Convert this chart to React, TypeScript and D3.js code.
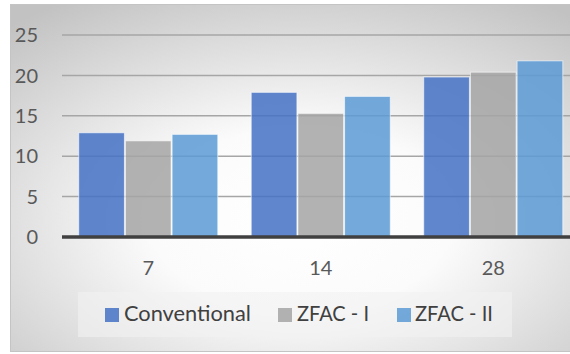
import React from "react";
import * as d3 from "d3";

const categories = ["7", "14", "28"];
const seriesNames = ["Conventional", "ZFAC - I", "ZFAC - II"];
const conventional = [12.9, 17.9, 19.8];
const zfacI = [11.9, 15.3, 20.4];
const zfacII = [12.7, 17.4, 21.8];
const yTicks = [0, 5, 10, 15, 20, 25];
const colors = ["#4472C4", "#A5A5A5", "#5B9BD5"];

const W = 570;
const H = 354;
const FONT = "Lato, 'Open Sans', sans-serif";

export default function App() {
  const seriesValues = [conventional, zfacI, zfacII];
  const plotLeft = 62;
  const plotRight = 579.5;
  const y = d3.scaleLinear().domain([0, 25]).range([237, 35]);
  const x0 = d3
    .scaleBand<string>()
    .domain(categories)
    .range([plotLeft, plotRight])
    .paddingInner(0.188)
    .paddingOuter(0.094);
  const x1 = d3
    .scaleBand<string>()
    .domain(seriesNames)
    .range([0, x0.bandwidth()])
    .padding(0);

  const legendItems = [
    { name: seriesNames[0], sq: 105, tx: 124, len: 127 },
    { name: seriesNames[1], sq: 278, tx: 297, len: 72 },
    { name: seriesNames[2], sq: 397, tx: 415, len: 78 },
  ];

  return (
    <svg
      width={W}
      height={H}
      style={{ position: "absolute", left: 0, top: 0, display: "block" }}
    >
      <defs>
        <radialGradient id="bg" cx="50%" cy="62%" r="75%" fx="50%" fy="62%">
          <stop offset="0%" stopColor="#ffffff" />
          <stop offset="35%" stopColor="#fbfbfb" />
          <stop offset="100%" stopColor="#c2c2c2" />
        </radialGradient>
      </defs>
      <rect x={0} y={0} width={W} height={H} fill="#ffffff" />
      <rect
        x={10.5}
        y={4.5}
        width={580}
        height={347}
        fill="url(#bg)"
        stroke="#c4c4c4"
        strokeWidth={1}
      />
      {/* gridlines */}
      {yTicks.slice(1).map((t) => (
        <line
          key={t}
          x1={plotLeft}
          x2={W}
          y1={y(t)}
          y2={y(t)}
          stroke="#a6a6a6"
          strokeWidth={1.5}
        />
      ))}
      {/* y tick labels */}
      {yTicks.map((t) => (
        <text
          key={t}
          x={38}
          y={y(t)}
          dy="0.36em"
          textAnchor="end"
          fontFamily={FONT}
          fontSize={20}
          fill="#595959"
        >
          {t}
        </text>
      ))}
      {/* bars */}
      {categories.map((c, ci) => (
        <g key={c} transform={`translate(${x0(c)},0)`}>
          {seriesNames.map((s, si) => {
            const v = seriesValues[si][ci];
            return (
              <rect
                key={s}
                x={(x1(s) as number) + 0.5}
                y={y(v)}
                width={x1.bandwidth() - 1}
                height={y(0) - y(v)}
                fill={colors[si]}
                fillOpacity={0.85}
                stroke="#ffffff"
                strokeOpacity={0.6}
                strokeWidth={1}
              />
            );
          })}
        </g>
      ))}
      {/* x axis line */}
      <line
        x1={plotLeft}
        x2={W}
        y1={y(0)}
        y2={y(0)}
        stroke="#404040"
        strokeWidth={3.5}
      />
      {/* x tick labels */}
      {categories.map((c) => (
        <text
          key={c}
          x={(x0(c) as number) + x0.bandwidth() / 2}
          y={268}
          dy="0.36em"
          textAnchor="middle"
          fontFamily={FONT}
          fontSize={20}
          fill="#595959"
        >
          {c}
        </text>
      ))}
      {/* legend */}
      <rect
        x={78}
        y={292}
        width={434}
        height={45}
        fill="#f2f2f2"
        fillOpacity={0.6}
      />
      {legendItems.map((it, i) => (
        <g key={it.name}>
          <rect
            x={it.sq}
            y={308}
            width={14}
            height={14}
            fill={colors[i]}
            fillOpacity={0.85}
          />
          <text
            x={it.tx}
            y={314}
            dy="0.35em"
            fontFamily={FONT}
            fontSize={21}
            fill="#404040"
            textLength={it.len}
            lengthAdjust="spacingAndGlyphs"
          >
            {it.name}
          </text>
        </g>
      ))}
    </svg>
  );
}
